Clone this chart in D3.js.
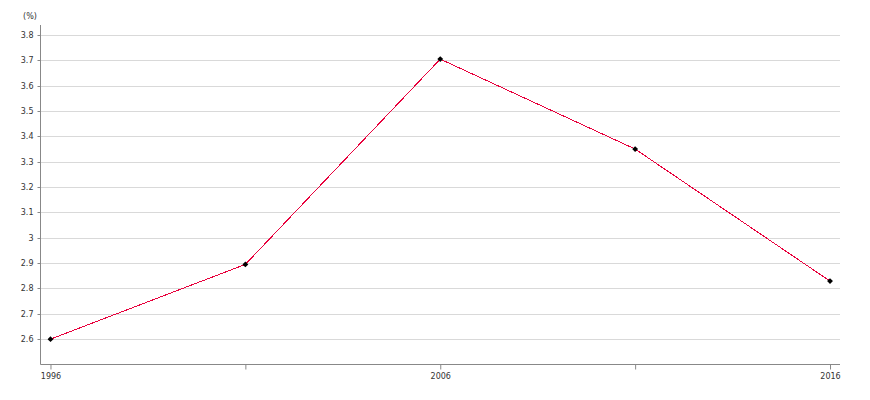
<!DOCTYPE html>
<html><head><meta charset="utf-8">
<script src="https://cdn.jsdelivr.net/npm/d3@7"></script>
<style>body{margin:0;background:#fff;} text{font-family:"DejaVu Sans",sans-serif;}</style>
</head><body><svg id="c" width="870" height="400"></svg>
<script>
const years = [1996, 2001, 2006, 2011, 2016];
const values = [2.6, 2.895, 3.705, 3.35, 2.829];
const yTicks = [2.6, 2.7, 2.8, 2.9, 3.0, 3.1, 3.2, 3.3, 3.4, 3.5, 3.6, 3.7, 3.8];
const xTicks = [1996, 2001, 2006, 2011, 2016];
const xLabels = ["1996", "", "2006", "", "2016"];
const unitLabel = "(%)";

const svg = d3.select("#c");
const L = 40.5, R = 840, T = 25, B = 364.5;
const x = d3.scaleLinear().domain([1995.744, 2016.256]).range([L, R]);
const y = d3.scaleLinear().domain([2.5, 3.8395]).range([B, T]);

// gridlines
svg.append("g").selectAll("line").data(yTicks).join("line")
  .attr("x1", L).attr("x2", R)
  .attr("y1", d => Math.round(y(d)) + 0.5).attr("y2", d => Math.round(y(d)) + 0.5)
  .attr("stroke", "#d9d9d9").attr("stroke-width", 1);

// y axis
const yAxis = d3.axisLeft(y).tickValues(yTicks).tickSize(3).tickPadding(4)
  .tickFormat(d => d3.format("")(+d.toFixed(1)));
const gy = svg.append("g").attr("transform", `translate(${L},0)`).call(yAxis);
gy.select(".domain").attr("stroke", "#888").attr("d", `M0,${T}V${B}`);
gy.selectAll(".tick line").attr("stroke", "#888");
gy.selectAll(".tick").attr("transform", d => `translate(0,${Math.round(y(d)) + 0.5})`);
gy.selectAll("text").attr("fill", "#333").style("font-size", "8px");

// x axis
const xAxis = d3.axisBottom(x).tickValues(xTicks).tickSize(5).tickPadding(4)
  .tickFormat((d, i) => xLabels[i]);
const gx = svg.append("g").attr("transform", `translate(0,${B})`).call(xAxis);
gx.select(".domain").attr("stroke", "#888").attr("d", `M${L},0H${R}`);
gx.selectAll(".tick line").attr("stroke", "#888");
gx.selectAll("text").attr("fill", "#333").style("font-size", "8px");

// unit label
svg.append("text").attr("x", 30).attr("y", 19).attr("text-anchor", "middle")
  .attr("fill", "#333").style("font-size", "8px").text(unitLabel);

// line
const line = d3.line().x((d, i) => x(years[i])).y(d => y(d));
svg.append("path").datum(values).attr("d", line)
  .attr("fill", "none").attr("stroke", "#e8003c").attr("stroke-width", 1)
  .attr("shape-rendering", "crispEdges");

// markers
svg.append("g").selectAll("path").data(values).join("path")
  .attr("d", d3.symbol(d3.symbolDiamond2, 22))
  .attr("transform", (d, i) => `translate(${x(years[i])},${y(d)})`)
  .attr("fill", "#000");
</script></body></html>
